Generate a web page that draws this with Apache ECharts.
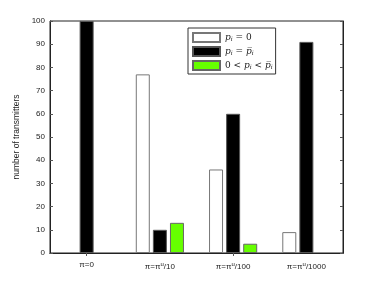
<!DOCTYPE html>
<html><head><meta charset="utf-8">
<script src="https://cdn.jsdelivr.net/npm/echarts@6/dist/echarts.min.js"></script>
<style>html,body{margin:0;padding:0;background:#fff}#c{width:379px;height:285px}</style>
</head><body><div id="c"></div>
<script>
var categories = ['π=0', 'π=π{s|u}/10', 'π=π{s|u}/100', 'π=π{s|u}/1000'];
var zeroVals = [0, 77, 36, 9];
var fullVals = [100, 10, 60, 91];
var midVals = [0, 13, 4, 0];
var yTicks = [0, 10, 20, 30, 40, 50, 60, 70, 80, 90, 100];
var seriesNames = ['A', 'B', 'C'];
var legendRich = {
  'A': '{p|p}{sub|i}{t| = 0}',
  'B': '{p|p}{sub|i}{t| = }{p|p\u0305}{sub|i}',
  'C': '{t|0 < }{p|p}{sub|i}{t| < }{p|p\u0305}{sub|i}'
};
function hideZero(arr) { return arr.map(function (v) { return v === 0 ? null : v; }); }
var chart = echarts.init(document.getElementById('c'), null, {renderer: 'canvas'});
var axisCol = '#222';
var tickStyle = {show: true, inside: true, length: 3, lineStyle: {color: '#555', width: 1}};
var opt = {
  animation: false,
  backgroundColor: '#fff',
  grid: {left: 50, top: 21, right: 36, bottom: 32, show: true, borderColor: axisCol, borderWidth: 1, backgroundColor: '#fff'},
  xAxis: [{
    type: 'category', data: categories, position: 'bottom',
    axisLine: {show: true, lineStyle: {color: axisCol}},
    axisTick: Object.assign({alignWithLabel: true}, tickStyle),
    axisLabel: {color: '#222', fontSize: 8, fontFamily: 'Liberation Sans', margin: 8,
      rich: {s: {fontSize: 6, fontFamily: 'Liberation Sans', color: '#222', verticalAlign: 'top', padding: [0, 0, 5, 0]}}}
  }, {
    type: 'category', data: categories, position: 'top',
    axisLine: {show: true, lineStyle: {color: axisCol}},
    axisTick: Object.assign({alignWithLabel: true}, tickStyle),
    axisLabel: {show: false}
  }],
  yAxis: [{
    type: 'value', min: 0, max: 100, interval: 10,
    name: 'number of transmitters', nameLocation: 'middle', nameGap: 24,
    nameTextStyle: {fontSize: 8.5, color: '#222', fontFamily: 'Liberation Sans'},
    axisLine: {show: true, lineStyle: {color: axisCol}},
    axisTick: tickStyle,
    splitLine: {show: false},
    axisLabel: {color: '#222', fontSize: 8, fontFamily: 'Liberation Sans', margin: 5,
      formatter: function (v) { return yTicks.indexOf(v) >= 0 ? String(v) : ''; }}
  }, {
    type: 'value', min: 0, max: 100, interval: 10, position: 'right',
    axisLine: {show: true, lineStyle: {color: axisCol}},
    axisTick: tickStyle, splitLine: {show: false}, axisLabel: {show: false}
  }],
  legend: {
    data: seriesNames, orient: 'vertical', left: 188, top: 28,
    itemWidth: 27, itemHeight: 9, itemGap: 3, icon: 'rect',
    backgroundColor: '#fff', borderColor: '#333', borderWidth: 1, padding: [4, 3, 3, 4],
    formatter: function (n) { return legendRich[n]; },
    textStyle: {
      fontSize: 9, color: '#222',
      rich: {
        p: {fontStyle: 'italic', fontFamily: 'DejaVu Serif', fontSize: 9, color: '#222'},
        sub: {fontStyle: 'italic', fontFamily: 'DejaVu Serif', fontSize: 6, color: '#222', verticalAlign: 'bottom', padding: [3, 0, 0, 0]},
        t: {fontFamily: 'DejaVu Serif', fontSize: 9, color: '#222'}
      }
    }
  },
  series: [
    {name: 'A', type: 'bar', data: hideZero(zeroVals), barWidth: 14, barGap: '22%',
      itemStyle: {color: '#fff', borderColor: '#777', borderWidth: 1}},
    {name: 'B', type: 'bar', data: hideZero(fullVals), barWidth: 14,
      itemStyle: {color: '#000', borderColor: '#555', borderWidth: 1}},
    {name: 'C', type: 'bar', data: hideZero(midVals), barWidth: 14,
      itemStyle: {color: '#66ff00', borderColor: '#666', borderWidth: 1}}
  ]
};
chart.setOption(opt);
</script></body></html>
